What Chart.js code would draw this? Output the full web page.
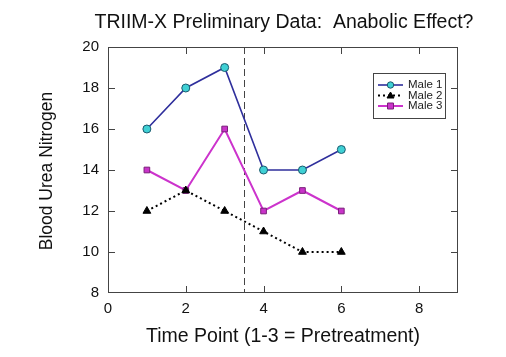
<!DOCTYPE html>
<html><head><meta charset="utf-8">
<script src="https://cdn.jsdelivr.net/npm/chart.js@4/dist/chart.umd.min.js"></script>
<style>html,body{margin:0;padding:0;background:#fff;}#wrap{width:506px;height:357px;position:relative;}</style>
</head><body><div id="wrap"><canvas id="c" width="506" height="357"></canvas></div>
<script>
const timePoints = [1, 2, 3, 4, 5, 6];
const male1 = [16, 18, 19, 14, 14, 15];
const male2 = [12, 13, 12, 11, 10, 10];
const male3 = [14, 13, 16, 12, 13, 12];
const seriesNames = ['Male 1', 'Male 2', 'Male 3'];
const xTicks = [0, 2, 4, 6, 8];
const yTicks = [8, 10, 12, 14, 16, 18, 20];
const treatmentStart = 3.5;
const chartTitle = 'TRIIM-X Preliminary Data:  Anabolic Effect?';
const xTitle = 'Time Point (1-3 = Pretreatment)';
const yTitle = 'Blood Urea Nitrogen';

const FONT = '"Liberation Sans", Arial, sans-serif';
const pts = arr => timePoints.map((t, i) => ({x: t, y: arr[i]}));

const datasets = [
  {label: seriesNames[0], data: pts(male1), borderColor: '#2f2f9c', borderWidth: 1.6,
   pointStyle: 'circle', pointRadius: 4, pointBackgroundColor: '#3fd0d4', pointBorderColor: '#1b5a6e', pointBorderWidth: 1},
  {label: seriesNames[1], data: pts(male2), borderColor: '#000', borderWidth: 2, borderDash: [2, 3],
   pointStyle: 'triangle', pointRadius: 4.5, pointBackgroundColor: '#000', pointBorderColor: '#000', pointBorderWidth: 1},
  {label: seriesNames[2], data: pts(male3), borderColor: '#cc33cc', borderWidth: 2,
   pointStyle: 'rect', pointRadius: 4, pointBackgroundColor: '#c933c9', pointBorderColor: '#7a1f7a', pointBorderWidth: 1}
];

const deco = {
  id: 'deco',
  beforeDatasetsDraw(chart) {
    const {ctx, chartArea: a, scales: {x}} = chart;
    ctx.save();
    const xv = Math.round(x.getPixelForValue(treatmentStart)) + 0.5;
    ctx.strokeStyle = '#444'; ctx.lineWidth = 1; ctx.setLineDash([7, 4]);
    ctx.beginPath(); ctx.moveTo(xv, a.top); ctx.lineTo(xv, a.bottom); ctx.stroke();
    ctx.restore();
  },
  afterDraw(chart) {
    const {ctx, chartArea: a, scales: {x, y}} = chart;
    ctx.save();
    ctx.strokeStyle = '#444'; ctx.lineWidth = 1;
    ctx.strokeRect(a.left + 0.5, a.top + 0.5, a.right - a.left - 1, a.bottom - a.top - 1);
    const L = 7;
    ctx.beginPath();
    xTicks.forEach(v => {
      if (v <= x.min || v >= x.max) return;
      const px = Math.round(x.getPixelForValue(v)) + 0.5;
      ctx.moveTo(px, a.bottom); ctx.lineTo(px, a.bottom - L);
      ctx.moveTo(px, a.top); ctx.lineTo(px, a.top + L);
    });
    yTicks.forEach(v => {
      if (v <= y.min || v >= y.max) return;
      const py = Math.round(y.getPixelForValue(v)) + 0.5;
      ctx.moveTo(a.left, py); ctx.lineTo(a.left + L, py);
      ctx.moveTo(a.right, py); ctx.lineTo(a.right - L, py);
    });
    ctx.stroke();
    ctx.fillStyle = '#111';
    ctx.textAlign = 'center'; ctx.textBaseline = 'middle';
    ctx.font = '19.5px ' + FONT;
    ctx.fillText(chartTitle, 284, 23);
    ctx.fillText(xTitle, 283, 337);
    ctx.save();
    ctx.translate(47, 171); ctx.rotate(-Math.PI / 2);
    ctx.font = '17.5px ' + FONT;
    ctx.fillText(yTitle, 0, 0);
    ctx.restore();
    // legend
    const bx = 373, by = 73, bw = 72, bh = 45;
    ctx.fillStyle = '#fff';
    ctx.fillRect(bx, by, bw, bh);
    ctx.strokeStyle = '#444'; ctx.lineWidth = 1;
    ctx.strokeRect(bx + 0.5, by + 0.5, bw, bh);
    chart.data.datasets.forEach((ds, i) => {
      const ry = 85 + i * 10.5;
      ctx.strokeStyle = ds.borderColor; ctx.lineWidth = ds.borderWidth;
      ctx.setLineDash(ds.borderDash || []);
      ctx.beginPath(); ctx.moveTo(378, ry); ctx.lineTo(403, ry); ctx.stroke();
      ctx.setLineDash([]);
      ctx.fillStyle = ds.pointBackgroundColor; ctx.strokeStyle = ds.pointBorderColor; ctx.lineWidth = 1;
      ctx.beginPath();
      if (ds.pointStyle === 'circle') { ctx.arc(390.5, ry, 3.2, 0, Math.PI * 2); }
      else if (ds.pointStyle === 'rect') { ctx.rect(387.5, ry - 3, 6, 6); }
      else { ctx.moveTo(390.5, ry - 3.5); ctx.lineTo(394, ry + 2.5); ctx.lineTo(387, ry + 2.5); ctx.closePath(); }
      ctx.fill(); ctx.stroke();
      ctx.fillStyle = '#222'; ctx.font = '11.5px ' + FONT;
      ctx.textAlign = 'left'; ctx.textBaseline = 'middle';
      ctx.fillText(ds.label, 408, ry);
    });
    ctx.restore();
  }
};

new Chart(document.getElementById('c'), {
  type: 'line',
  data: {datasets},
  options: {
    responsive: false, animation: false, devicePixelRatio: 1,
    layout: {padding: {left: 0, right: 48, top: 47, bottom: 0}},
    plugins: {legend: {display: false}, title: {display: false}, tooltip: {enabled: false}},
    scales: {
      x: {type: 'linear', min: 0, max: 9,
          afterBuildTicks: s => { s.ticks = xTicks.map(v => ({value: v})); },
          afterFit: s => { s.height = 64; },
          grid: {display: false, drawTicks: false}, border: {display: false},
          ticks: {padding: 7, color: '#111', font: {family: FONT, size: 15}}},
      y: {type: 'linear', min: 8, max: 20,
          afterBuildTicks: s => { s.ticks = yTicks.map(v => ({value: v})); },
          afterFit: s => { s.width = 108; },
          grid: {display: false, drawTicks: false}, border: {display: false},
          ticks: {padding: 9, color: '#111', font: {family: FONT, size: 15}}}
    }
  },
  plugins: [deco]
});
</script></body></html>
